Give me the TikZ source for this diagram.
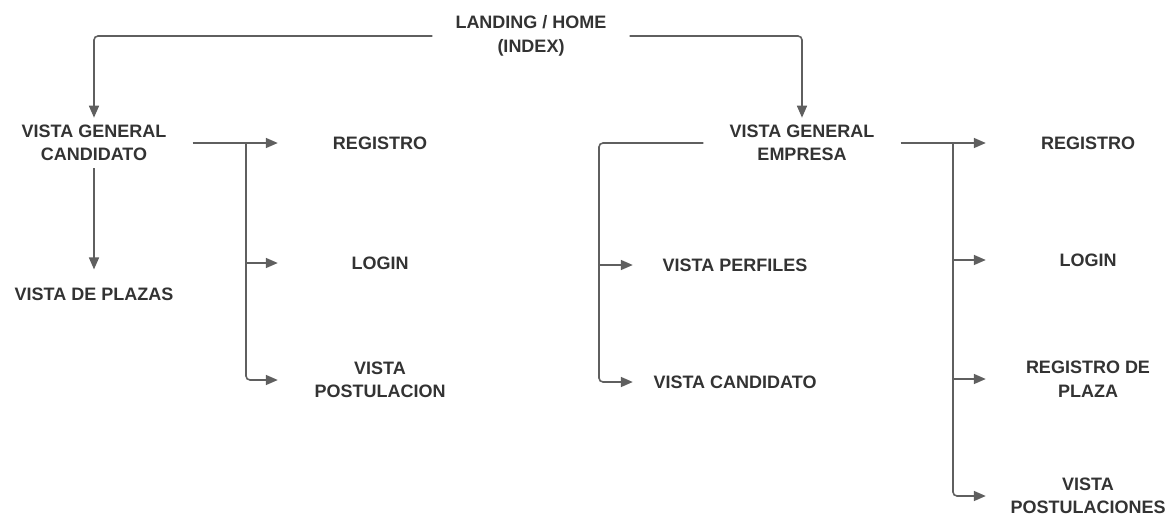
\documentclass[tikz,border=0pt]{standalone}
\usepackage{fontspec}
\setmainfont{Liberation Sans}
\usepackage{tikz}
\usetikzlibrary{arrows.meta}
\definecolor{txtgray}{HTML}{333333}
\definecolor{linegray}{HTML}{5F5F5F}
\tikzset{
	lbl/.style={text=txtgray, align=center, inner sep=0pt, font=\fontsize{18}{23.5}\selectfont\bfseries},
	hub/.style={lbl, inner xsep=26pt, inner ysep=7pt},
	leaf/.style={lbl, minimum width=204pt},
	conn/.style={draw=linegray, line width=1.6pt, -{Triangle[length=12pt,width=10pt]}},
	trunk/.style={conn, rounded corners=4pt}
}

\begin{document}
\begin{tikzpicture}[x=1pt, y=-1pt]
		%%%%% START %%%%%
		\useasboundingbox (0, 0) rectangle (1171, 517);
		
		\node[lbl, inner xsep=23pt] (home) at (531, 36) {LANDING / HOME\\(INDEX)};
		
		\node[hub] (cand) at (94, 143) {VISTA GENERAL\\CANDIDATO};
		\node[lbl] (plazas) at (94, 294) {VISTA DE PLAZAS};
		\node[leaf] (reg1) at (380, 143) {REGISTRO};
		\node[leaf] (log1) at (380, 263) {LOGIN};
		\node[leaf] (post1) at (380, 380) {VISTA\\POSTULACION};
		
		\node[hub] (emp) at (802, 143) {VISTA GENERAL\\EMPRESA};
		\node[leaf] (perf) at (735, 265) {VISTA PERFILES};
		\node[leaf] (cand2) at (735, 382) {VISTA CANDIDATO};
		\node[leaf] (reg2) at (1088, 143) {REGISTRO};
		\node[leaf] (log2) at (1088, 260) {LOGIN};
		\node[leaf] (regpl) at (1088, 379) {REGISTRO DE\\PLAZA};
		\node[leaf] (post2) at (1088, 496) {VISTA\\POSTULACIONES};
		
		\coordinate (hubL) at (246, 143);
		\coordinate (hubM) at (599, 143);
		\coordinate (hubR) at (953, 143);
		
		\draw[trunk] (home.west) -| (cand.north);
		\draw[trunk] (home.east) -| (emp.north);
		
		\draw[conn] (cand.south) -- ([yshift=18pt]plazas.north);
		\draw[conn] (cand) -- (reg1);
		\draw[conn] (hubL |- log1.west) -- (log1.west);
		\draw[trunk] (hubL) |- (post1.west);
		
		\draw[trunk] (emp.west) -- (hubM) |- (cand2.west);
		\draw[conn] (hubM |- perf.west) -- (perf.west);
		
		\draw[conn] (emp) -- (reg2);
		\draw[conn] (hubR |- log2.west) -- (log2.west);
		\draw[conn] (hubR |- regpl.west) -- (regpl.west);
		\draw[trunk] (hubR) |- (post2.west);
		
		%%%%% END %%%%%
	\end{tikzpicture}
\end{document}
